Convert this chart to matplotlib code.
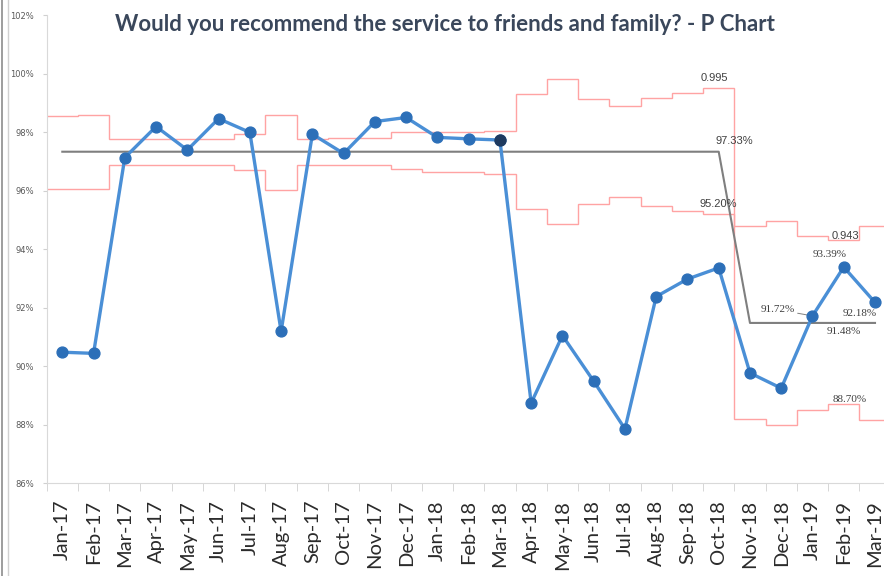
import matplotlib.pyplot as plt
import numpy as np
from matplotlib.lines import Line2D

# monthly data
months = ['Jan-17', 'Feb-17', 'Mar-17', 'Apr-17', 'May-17', 'Jun-17', 'Jul-17',
          'Aug-17', 'Sep-17', 'Oct-17', 'Nov-17', 'Dec-17', 'Jan-18', 'Feb-18',
          'Mar-18', 'Apr-18', 'May-18', 'Jun-18', 'Jul-18', 'Aug-18', 'Sep-18',
          'Oct-18', 'Nov-18', 'Dec-18', 'Jan-19', 'Feb-19', 'Mar-19']

# % recommending
pct = [90.48, 90.44, 97.13, 98.19, 97.39, 98.46, 97.99, 91.19, 97.93, 97.27,
       98.36, 98.50, 97.82, 97.77, 97.73, 88.74, 91.05, 89.49, 87.86, 92.38,
       92.98, 93.36, 89.77, 89.25, 91.72, 93.39, 92.18]

# centre line (mean), recalculated from Nov-18
centre = [97.33, 97.33, 97.33, 97.33, 97.33, 97.33, 97.33, 97.33, 97.33,
          97.33, 97.33, 97.33, 97.33, 97.33, 97.33, 97.33, 97.33, 97.33,
          97.33, 97.33, 97.33, 97.33, 91.48, 91.48, 91.48, 91.48, 91.48]

# control limits
ucl = [98.55, 98.59, 97.76, 97.76, 97.76, 97.76, 97.93, 98.59, 97.78, 97.79,
       97.79, 97.99, 97.99, 97.99, 98.04, 99.30, 99.81, 99.13, 98.90, 99.18,
       99.33, 99.50, 94.78, 94.97, 94.46, 94.30, 94.78]
lcl = [96.05, 96.05, 96.88, 96.88, 96.88, 96.88, 96.71, 96.02, 96.88, 96.88,
       96.88, 96.74, 96.65, 96.65, 96.57, 95.38, 94.85, 95.53, 95.77, 95.48,
       95.30, 95.20, 88.19, 87.98, 88.49, 88.70, 88.18]

x = np.arange(len(months))
edges = np.arange(len(months) + 1) - 0.5

fig = plt.figure(figsize=(8.84, 5.76), dpi=100)
ax = fig.add_axes([0.0528, 0.1609, 0.9547, 0.813])

red = '#FFA3A3'
ax.stairs(ucl, edges, baseline=None, color=red, lw=1.0)
ax.stairs(lcl, edges, baseline=None, color=red, lw=1.0)
ax.plot(x, centre, color='#7F7F7F', lw=1.5)
ax.plot(x, pct, color='#4A8FD6', lw=2.4, marker='o', ms=7.8,
        mfc='#2C6FB8', mec='#2C6FB8', zorder=5)
ax.plot(x[14], pct[14], 'o', ms=7.8, color='#1F3A5F', zorder=6)

ax.set_xlim(-0.5, len(months) - 0.5)
ax.set_ylim(86, 102)
ax.set_yticks(np.arange(86, 103, 2))
ax.set_yticklabels([f'{v:.0f}%' for v in np.arange(86, 103, 2)],
                   fontsize=6, color='#595959')
ax.set_xticks(x)
ax.set_xticklabels(months, rotation=90, fontsize=14.5, family='Lato',
                   color='#2B2B2B')
ax.set_xticks(edges, minor=True)
ax.tick_params(axis='x', which='major', length=0, pad=12)
ax.tick_params(axis='x', which='minor', length=6, color='#D0D0D0')
ax.tick_params(axis='y', length=3, color='#D0D0D0', pad=6)
for s in ['top', 'right']:
    ax.spines[s].set_visible(False)
for s in ['left', 'bottom']:
    ax.spines[s].set_color('#D9D9D9')

# data labels
lab = dict(fontsize=8, color='#404040', ha='center', va='center',
           textcoords='offset points')
ax.annotate(f'{ucl[21] / 100:.3f}', (21, ucl[21]), xytext=(-3, 7),
            family='Liberation Sans', **lab)
ax.annotate(f'{centre[21]:.2f}%', (21, centre[21]), xytext=(11, 8),
            family='Liberation Sans', **lab)
ax.annotate(f'{lcl[21]:.2f}%', (21, lcl[21]), xytext=(0, 7),
            family='Liberation Sans', **lab)
ax.annotate(f'{ucl[25] / 100:.3f}', (25, ucl[25]), xytext=(1, 3),
            family='Liberation Sans', **lab)
ax.annotate(f'{pct[25]:.2f}%', (25, pct[25]), xytext=(-10, 9),
            family='Liberation Serif', **lab)
ax.annotate(f'{pct[24]:.2f}%', (24, pct[24]), xytext=(-25, 4.5),
            family='Liberation Serif',
            arrowprops=dict(arrowstyle='-', color='#7F7F7F', lw=0.7,
                            shrinkA=0, shrinkB=3), **lab)
ax.annotate(f'{pct[26]:.2f}%', (26, pct[26]), xytext=(-11, -8),
            family='Liberation Serif', **lab)
ax.annotate(f'{centre[25]:.2f}%', (25, centre[25]), xytext=(0, -6.5),
            family='Liberation Serif', **lab)
ax.annotate(f'{lcl[25]:.2f}%', (25, lcl[25]), xytext=(4, 3.5),
            family='Liberation Serif', **lab)

fig.text(0.503, 0.957, 'Would you recommend the service to friends and family? - P Chart',
         ha='center', va='center', fontsize=16, fontweight='bold',
         family='Lato', color='#3A475B')

# outer frame edges
fig.add_artist(Line2D([0.0017, 0.0017], [0, 1], color='#8C8C8C', lw=1.2))
fig.add_artist(Line2D([0.0093, 0.0093], [0, 1], color='#D0D0D0', lw=1.0))

fig.savefig('out.png', dpi=100)
